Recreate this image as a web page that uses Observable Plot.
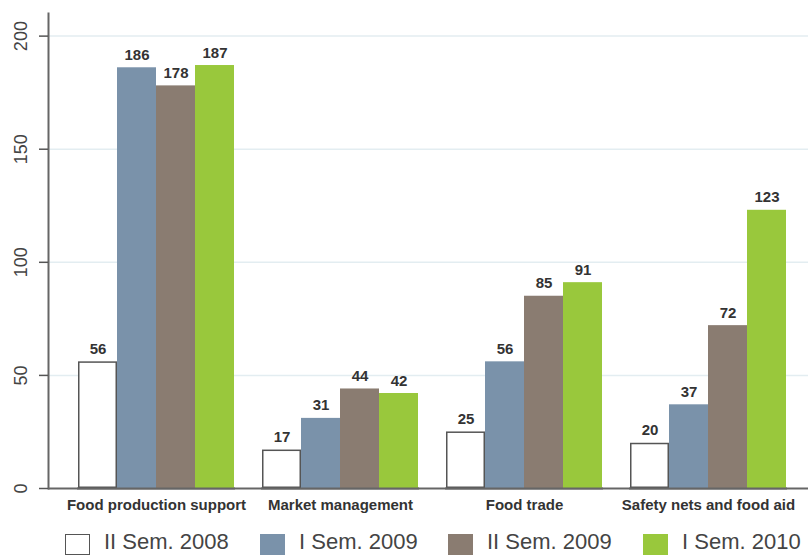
<!DOCTYPE html>
<html>
<head>
<meta charset="utf-8">
<script src="https://cdn.jsdelivr.net/npm/d3@7"></script>
<script src="https://cdn.jsdelivr.net/npm/@observablehq/plot@0.6"></script>
<style>
  html, body { margin: 0; padding: 0; background: #fff; overflow: hidden; }
  body { width: 808px; height: 555px; font-family: "Liberation Sans", Arial, sans-serif; }
  #chart { position: relative; width: 808px; height: 522px; }
  #chart svg { display: block; position: absolute; left: 0; top: 0; }
  .legend { display: grid; grid-template-columns: 195px 188px 195px auto; padding-left: 65px; margin-top: 12px; }
  .item { display: flex; align-items: flex-start; }
  .swatch { width: 25px; height: 21px; box-sizing: border-box; margin-right: 14px; flex: none; }
  .label { font-size: 22px; line-height: 25px; color: #444; white-space: nowrap; position: relative; top: -5px; }
</style>
</head>
<body>
<div id="chart"></div>
<div class="legend" id="legend"></div>
<script>
// Programme categories (x groups)
const categories = ["Food production support", "Market management", "Food trade", "Safety nets and food aid"];

// Reporting periods (one bar per period within each group)
const seriesNames = ["II Sem. 2008", "I Sem. 2009", "II Sem. 2009", "I Sem. 2010"];
const seriesColors = ["#ffffff", "#7a92aa", "#8a7c71", "#99c83c"];

// Counts per category, one array per period
const semII2008 = [56, 17, 25, 20];
const semI2009  = [186, 31, 56, 37];
const semII2009 = [178, 44, 85, 72];
const semI2010  = [187, 42, 91, 123];

const yTicks = [0, 50, 100, 150, 200];

const seriesValues = [semII2008, semI2009, semII2009, semI2010];
const data = [];
categories.forEach((cat, i) => {
  seriesNames.forEach((s, j) => data.push({category: cat, series: s, value: seriesValues[j][i]}));
});

const font = "'Liberation Sans', Arial, sans-serif";
const frame = {width: 808, height: 522, marginTop: 13, marginBottom: 34, marginLeft: 48, marginRight: 0};
const yScale = {domain: [0, 210], axis: null};

// Back layer: grid, baseline and the y axis spanning the full plot width
const axes = Plot.plot({
  ...frame,
  style: {fontFamily: font, background: "#fff"},
  y: yScale,
  marks: [
    Plot.ruleY(yTicks.filter(d => d > 0), {stroke: "#e3edf1", strokeWidth: 1.5}),
    Plot.ruleY([0], {stroke: "#666", strokeWidth: 2}),
    Plot.frame({anchor: "left", stroke: "#666", strokeWidth: 2}),
    Plot.axisY({ticks: yTicks, tickSize: 9, tickFormat: () => "", stroke: "#555", strokeWidth: 1.5, label: null}),
    Plot.text(yTicks, {y: d => d, text: d => String(d), frameAnchor: "left", dx: -27, rotate: -90,
      textAnchor: "middle", lineAnchor: "middle", fontSize: 18, fill: "#444"})
  ]
});

// Front layer: grouped bars, value labels and category labels
const bars = Plot.plot({
  ...frame,
  style: {fontFamily: font, background: "transparent"},
  fx: {domain: categories, paddingInner: 0.1429, paddingOuter: 0.1329, align: 0.58, label: null},
  x: {domain: seriesNames, padding: 0, axis: null},
  y: yScale,
  color: {domain: seriesNames, range: seriesColors},
  marks: [
    Plot.barY(data.filter(d => d.series !== seriesNames[0]), {fx: "category", x: "series", y: "value", fill: "series"}),
    Plot.barY(data.filter(d => d.series === seriesNames[0]), {fx: "category", x: "series", y: "value", fill: "#fff", stroke: "#555", strokeWidth: 1.5, inset: 0.75}),
    Plot.text(data, {fx: "category", x: "series", y: "value", text: d => String(d.value), dy: -8, lineAnchor: "bottom", fontSize: 15, fontWeight: "bold", fill: "#333"}),
    Plot.ruleY([0], {stroke: "#666", strokeWidth: 2}),
    Plot.axisFx({anchor: "bottom", tickSize: 0, tickPadding: 11, fontSize: 15, fontWeight: "bold", color: "#333", label: null})
  ]
});

const chart = document.getElementById("chart");
chart.append(axes, bars);

// Legend below the chart
const legend = document.getElementById("legend");
seriesNames.forEach((s, i) => {
  const item = document.createElement("div");
  item.className = "item";
  const sw = document.createElement("div");
  sw.className = "swatch";
  sw.style.background = seriesColors[i];
  if (i === 0) sw.style.border = "1.5px solid #555";
  const lab = document.createElement("span");
  lab.className = "label";
  lab.textContent = s;
  item.append(sw, lab);
  legend.appendChild(item);
});
</script>
</body>
</html>
